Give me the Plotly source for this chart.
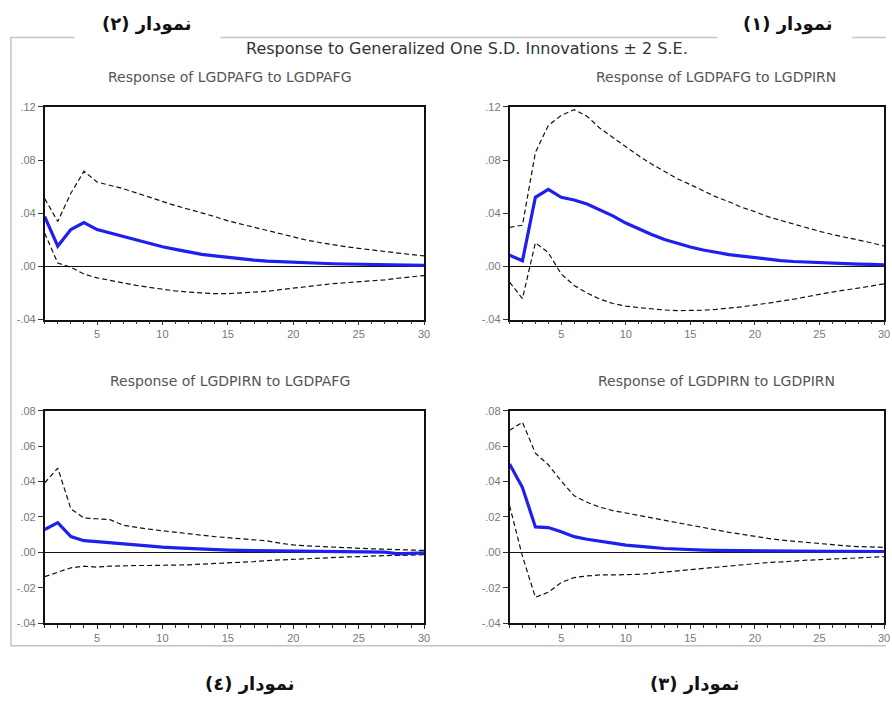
import plotly.graph_objects as go

W, H = 892, 702
periods = list(range(1, 31))

# Panel 1: Response of LGDPAFG to LGDPAFG
p1_resp = [0.0375, 0.0153, 0.0277, 0.0330, 0.0277, 0.0250, 0.0227, 0.0200, 0.0173, 0.0148,
           0.0128, 0.0110, 0.0090, 0.0079, 0.0067, 0.0057, 0.0047, 0.0040, 0.0035, 0.0030,
           0.0025, 0.0022, 0.0020, 0.0018, 0.0016, 0.0014, 0.0012, 0.0011, 0.0009, 0.0008]
p1_up = [0.0510, 0.0338, 0.0550, 0.0716, 0.0635, 0.0610, 0.0585, 0.0553, 0.0520, 0.0486,
         0.0457, 0.0430, 0.0405, 0.0375, 0.0343, 0.0318, 0.0296, 0.0270, 0.0247, 0.0222,
         0.0198, 0.0180, 0.0163, 0.0148, 0.0136, 0.0123, 0.0110, 0.0099, 0.0089, 0.0079]
p1_lo = [0.0250, 0.0025, -0.0007, -0.0057, -0.0086, -0.0106, -0.0123, -0.0143, -0.0158, -0.0173,
         -0.0185, -0.0193, -0.0200, -0.0205, -0.0205, -0.0200, -0.0193, -0.0188, -0.0175, -0.0163,
         -0.0150, -0.0138, -0.0130, -0.0123, -0.0116, -0.0109, -0.0101, -0.0089, -0.0079, -0.0069]

# Panel 2: Response of LGDPAFG to LGDPIRN
p2_resp = [0.0084, 0.0042, 0.0520, 0.0580, 0.0520, 0.0500, 0.0470, 0.0425, 0.0380, 0.0326,
           0.0281, 0.0240, 0.0202, 0.0173, 0.0146, 0.0123, 0.0104, 0.0089, 0.0077, 0.0064,
           0.0054, 0.0044, 0.0037, 0.0032, 0.0027, 0.0022, 0.0020, 0.0017, 0.0015, 0.0012]
p2_up = [0.0294, 0.0310, 0.0857, 0.1060, 0.1136, 0.1180, 0.1130, 0.1040, 0.0970, 0.0899,
         0.0832, 0.0770, 0.0716, 0.0660, 0.0615, 0.0568, 0.0523, 0.0486, 0.0444, 0.0412,
         0.0375, 0.0346, 0.0318, 0.0289, 0.0264, 0.0240, 0.0220, 0.0195, 0.0178, 0.0153]
p2_lo = [-0.0119, -0.0242, 0.0178, 0.0104, -0.0057, -0.0143, -0.0200, -0.0247, -0.0279, -0.0299,
         -0.0310, -0.0320, -0.0328, -0.0333, -0.0333, -0.0330, -0.0323, -0.0316, -0.0304, -0.0291,
         -0.0279, -0.0262, -0.0247, -0.0227, -0.0210, -0.0193, -0.0180, -0.0163, -0.0148, -0.0131]

# Panel 3: Response of LGDPIRN to LGDPAFG
p3_resp = [0.0129, 0.0168, 0.0089, 0.0066, 0.0061, 0.0055, 0.0048, 0.0039, 0.0033, 0.0030,
           0.0026, 0.0022, 0.0018, 0.0015, 0.0013, 0.0011, 0.0010, 0.0010, 0.0009, 0.0009,
           0.0008, 0.0008, 0.0007, 0.0007, 0.0006, 0.0005, 0.0002, -0.0008, -0.0005, -0.0003]
p3_up = [0.0393, 0.0476, 0.0246, 0.0194, 0.0190, 0.0185, 0.0153, 0.0140, 0.0131, 0.0122,
         0.0113, 0.0105, 0.0098, 0.0089, 0.0083, 0.0076, 0.0070, 0.0065, 0.0052, 0.0042,
         0.0037, 0.0033, 0.0030, 0.0026, 0.0022, 0.0020, 0.0018, 0.0017, 0.0015, 0.0011]
p3_lo = [-0.0137, -0.0114, -0.0087, -0.0078, -0.0083, -0.0078, -0.0074, -0.0074, -0.0074, -0.0074,
         -0.0074, -0.0070, -0.0066, -0.0063, -0.0059, -0.0057, -0.0052, -0.0046, -0.0042, -0.0039,
         -0.0035, -0.0031, -0.0030, -0.0026, -0.0024, -0.0020, -0.0018, -0.0017, -0.0015, -0.0013]

# Panel 4: Response of LGDPIRN to LGDPIRN
p4_resp = [0.0499, 0.0366, 0.0144, 0.0140, 0.0116, 0.0089, 0.0074, 0.0061, 0.0052, 0.0041,
           0.0033, 0.0028, 0.0022, 0.0018, 0.0015, 0.0013, 0.0011, 0.0010, 0.0010, 0.0009,
           0.0009, 0.0008, 0.0008, 0.0007, 0.0007, 0.0006, 0.0006, 0.0006, 0.0005, 0.0005]
p4_up = [0.0689, 0.0735, 0.0560, 0.0495, 0.0403, 0.0320, 0.0283, 0.0255, 0.0236, 0.0222,
         0.0209, 0.0196, 0.0181, 0.0168, 0.0153, 0.0140, 0.0126, 0.0113, 0.0102, 0.0089,
         0.0079, 0.0070, 0.0063, 0.0055, 0.0048, 0.0042, 0.0037, 0.0033, 0.0030, 0.0028]
p4_lo = [0.0264, -0.0022, -0.0253, -0.0225, -0.0170, -0.0142, -0.0133, -0.0127, -0.0127, -0.0127,
         -0.0124, -0.0118, -0.0111, -0.0105, -0.0096, -0.0089, -0.0081, -0.0074, -0.0068, -0.0063,
         -0.0057, -0.0054, -0.0048, -0.0044, -0.0041, -0.0037, -0.0033, -0.0030, -0.0028, -0.0024]

titles = ["Response of LGDPAFG to LGDPAFG", "Response of LGDPAFG to LGDPIRN",
          "Response of LGDPIRN to LGDPAFG", "Response of LGDPIRN to LGDPIRN"]
top_ticks = [-0.04, 0.0, 0.04, 0.08, 0.12]
top_ticktext = ["-.04", ".00", ".04", ".08", ".12"]
bot_ticks = [-0.04, -0.02, 0.0, 0.02, 0.04, 0.06, 0.08]
bot_ticktext = ["-.04", "-.02", ".00", ".02", ".04", ".06", ".08"]
x_ticks = [5, 10, 15, 20, 25, 30]

panels = [
    (p1_resp, p1_up, p1_lo),
    (p2_resp, p2_up, p2_lo),
    (p3_resp, p3_up, p3_lo),
    (p4_resp, p4_up, p4_lo),
]

# pixel geometry (layout only)
xdoms = [(45, 427), (513, 890), (45, 427), (513, 890)]
ydoms = [(102.7, 319), (102.7, 319), (411.7, 628), (411.7, 628)]

fig = go.Figure()
FONT = "Liberation Sans, Arial, sans-serif"
WIDE = "DejaVu Sans, sans-serif"

for i, (resp, up, lo) in enumerate(panels):
    n = i + 1
    xa = "x" if n == 1 else f"x{n}"
    ya = "y" if n == 1 else f"y{n}"
    for band in (up, lo):
        fig.add_trace(go.Scatter(x=periods, y=band, mode="lines", xaxis=xa, yaxis=ya,
                                 line=dict(color="#111111", width=1.2, dash="5px,3px"),
                                 showlegend=False, hoverinfo="skip"))
    fig.add_trace(go.Scatter(x=periods, y=resp, mode="lines", xaxis=xa, yaxis=ya,
                             line=dict(color="#1f1ff0", width=3.2),
                             showlegend=False, hoverinfo="skip"))
    x0, x1 = xdoms[i]
    y0, y1 = ydoms[i]
    top = i < 2
    xkey = "xaxis" if n == 1 else f"xaxis{n}"
    ykey = "yaxis" if n == 1 else f"yaxis{n}"
    fig.update_layout(**{
        xkey: dict(domain=[x0 / W, x1 / W], range=[1, 30], anchor=ya,
                   showline=True, linecolor="#111111", linewidth=1.5, mirror=True,
                   showgrid=False, zeroline=False,
                   tickmode="array", tickvals=x_ticks, ticks="outside", ticklen=4,
                   tickcolor="#333333", tickwidth=1,
                   minor=dict(dtick=1, tick0=1, ticks="outside", ticklen=3,
                              tickcolor="#333333", showgrid=False),
                   tickfont=dict(family=FONT, size=11, color="#777777")),
        ykey: dict(domain=[1 - y1 / H, 1 - y0 / H],
                   range=[-0.04, 0.12] if top else [-0.04, 0.08], anchor=xa,
                   showline=True, linecolor="#111111", linewidth=1.5, mirror=True,
                   showgrid=False, zeroline=True, zerolinecolor="#111111", zerolinewidth=1,
                   tickmode="array",
                   tickvals=top_ticks if top else bot_ticks,
                   ticktext=top_ticktext if top else bot_ticktext,
                   ticks="outside", ticklen=5, tickcolor="#333333",
                   tickfont=dict(family=FONT, size=11, color="#777777")),
    })

annotations = [
    dict(text="Response to Generalized One S.D. Innovations ± 2 S.E.", x=470 / W, y=1 - 43 / H,
         font=dict(family=WIDE, size=16, color="#333333")),
    dict(text=titles[0], x=232 / W, y=1 - 72 / H, font=dict(family=WIDE, size=14, color="#555555")),
    dict(text=titles[1], x=721 / W, y=1 - 72 / H, font=dict(family=WIDE, size=14, color="#555555")),
    dict(text=titles[2], x=232 / W, y=1 - 382 / H, font=dict(family=WIDE, size=14, color="#555555")),
    dict(text=titles[3], x=721 / W, y=1 - 382 / H, font=dict(family=WIDE, size=14, color="#555555")),
]
persian = [("\u200fنمودار (۲)\u200f", 148, 18), ("\u200fنمودار (۱)\u200f", 793, 18),
           ("\u200fنمودار (٤)\u200f", 252, 690), ("\u200fنمودار (۳)\u200f", 700, 690)]
for t, px, py in persian:
    annotations.append(dict(text=f"<b>{t}</b>", x=px / W, y=1 - py / H,
                            font=dict(family="DejaVu Sans", size=18, color="#111111")))
for a in annotations:
    a.update(xref="paper", yref="paper", showarrow=False, xanchor="center", yanchor="middle")

frame = "#c4c4c4"
shapes = []
for xa0, xa1 in [(10, 75), (222, 722), (858, 892)]:
    shapes.append(dict(type="line", xref="paper", yref="paper", x0=xa0 / W, x1=xa1 / W,
                       y0=1 - 32 / H, y1=1 - 32 / H, line=dict(color=frame, width=1.5)))
shapes.append(dict(type="line", xref="paper", yref="paper", x0=11 / W, x1=11 / W,
                   y0=1 - 32 / H, y1=1 - 651 / H, line=dict(color=frame, width=1.5)))
shapes.append(dict(type="line", xref="paper", yref="paper", x0=11 / W, x1=1,
                   y0=1 - 651 / H, y1=1 - 651 / H, line=dict(color=frame, width=1.5)))

fig.update_layout(width=W, height=H, margin=dict(l=0, r=0, t=0, b=0),
                  paper_bgcolor="white", plot_bgcolor="white",
                  annotations=annotations, shapes=shapes, showlegend=False)

fig.write_html("out.html", config={"displayModeBar": False},
               post_script="document.body.style.margin='0';document.body.style.padding='0';"
                           "document.body.style.overflow='hidden';")
